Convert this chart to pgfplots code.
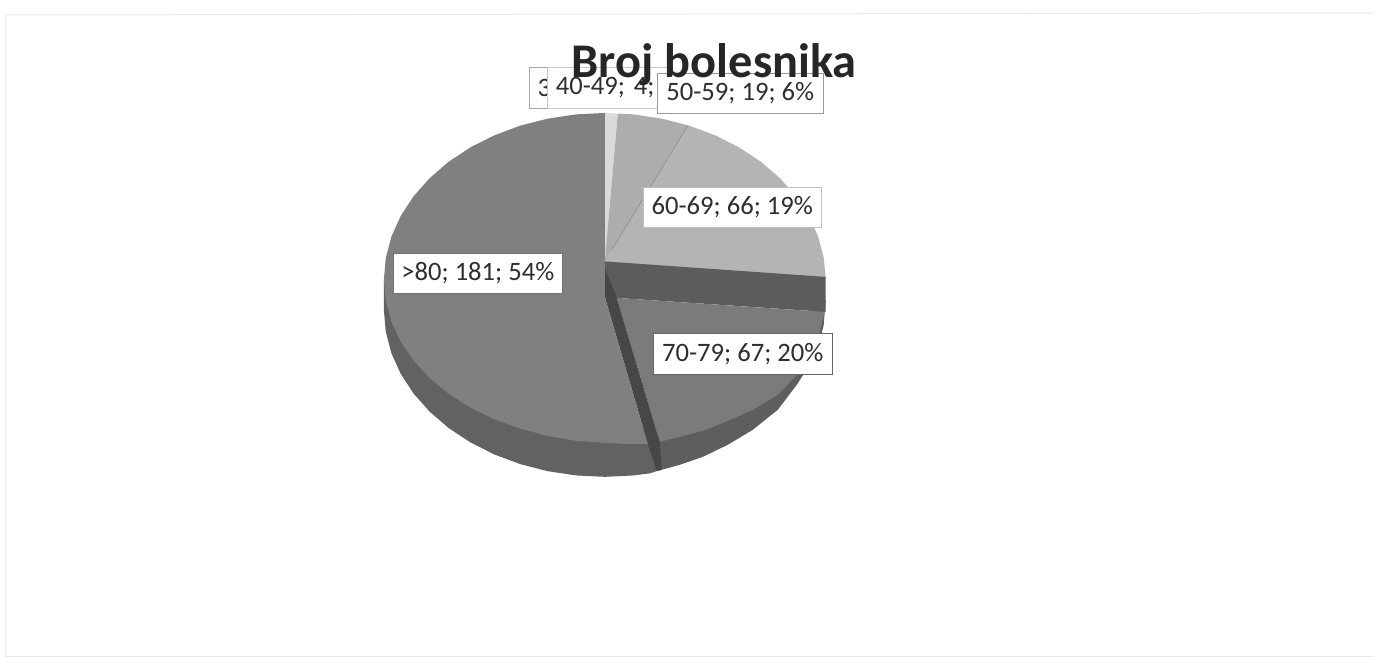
\documentclass[border=0pt]{standalone}
\usepackage{pgfplots}
\pgfplotsset{compat=1.18}
\usepackage{fontspec}
\setmainfont{Carlito}
\definecolor{slA}{HTML}{DADADA}
\definecolor{slB}{HTML}{ADADAD}
\definecolor{slC}{HTML}{B4B4B4}
\definecolor{slD}{HTML}{7B7B7B}
\definecolor{slE}{HTML}{808080}
\definecolor{wallD}{HTML}{5E5E5E}
\definecolor{wallE}{HTML}{626262}
\definecolor{strip}{HTML}{474747}
\definecolor{band}{HTML}{5C5C5C}
\definecolor{txt}{HTML}{2E2E2E}
\tikzset{lab/.style={fill=white,inner sep=0pt,anchor=north west,line width=1pt,font=\fontsize{26.6}{26.6}\selectfont,text=txt,align=center}}
\newcommand{\lift}[1]{\raisebox{-1.5pt}{#1}}
\begin{document}
\begin{tikzpicture}
\begin{axis}[
  scale only axis,width=1374pt,height=659pt,
  xmin=0,xmax=1374,ymin=0,ymax=659,y dir=reverse,
  hide axis,clip=false]
% keeps the page as large as the axis (hide axis drops the frame from the box)
\addplot[draw=none] coordinates {(0,0)(1374,659)};
% faint page edges of the scan
\addplot[color=black!9,line width=1pt] coordinates {(6,657)(6,15)(1374,13)};
\addplot[color=black!9,line width=1pt] coordinates {(6,657)(1374,657)};
% side walls
\addplot[fill=wallE,draw=none] coordinates {(384,280)(384,310)(385.9,331.8)(391.5,353.2)(400.8,373.9)(413.6,393.5)(429.7,411.7)(448.7,428.1)(470.5,442.5)(494.5,454.6)(520.4,464.3)(547.8,471.3)(576.2,475.6)(605,477)(633.8,475.6)(650,473.5)(658,471)(648,430)} --cycle;
\addplot[fill=wallD,draw=none] coordinates {(826,300)(824,325)(818,350)(808,368)(797,385)(778,410)(753,430)(728,445)(703,457)(680,465)(658,471)(655,440)(790,340)} --cycle;
% top faces, clockwise from noon
\addplot[fill=slA,draw=none] coordinates {(605,262)(605,113)(618,113.6)} --cycle;
\addplot[fill=slB,draw=none] coordinates {(605,262)(618,113.6)(633.8,114.4)(662.2,118.7)(689.6,125.7)} --cycle;
\addplot[fill=slC,draw=none] coordinates {(605,262)(689.6,125.7)(715.5,135.4)(739.5,147.5)(761.3,161.9)(780.3,178.3)(796.4,196.5)(809.2,216.1)(818.5,236.8)(824.1,258.2)(826,278)} --cycle;
\addplot[color=black!42,line width=0.8pt] coordinates {(612,250)(688,126)};
\addplot[fill=band,draw=none] coordinates {(605,261.5)(826,277)(826,312)(617,298)(605,285)} --cycle;
\addplot[fill=slD,draw=none] coordinates {(617,298)(825,312)(818,340)(808,358)(800,372)(778,395)(753,410)(728,421)(703,431)(680,437)(660,442)} --cycle;
\addplot[fill=strip,draw=none] coordinates {(605,268)(605,297)(648,444)(657,471)(662,470)(660,442)(617,298)} --cycle;
\addplot[fill=slE,draw=none] coordinates {(605,113)(576.2,114.4)(547.8,118.7)(520.4,125.7)(494.5,135.4)(470.5,147.5)(448.7,161.9)(429.7,178.3)(413.6,196.5)(400.8,216.1)(391.5,236.8)(385.9,258.2)(384,280)(385.9,301)(391.5,321.6)(400.8,341.6)(413.6,360.5)(429.7,378)(448.7,393.8)(470.5,407.7)(494.5,419.4)(520.4,428.7)(547.8,436)(576.2,441)(605,443)(625,444)(648,444)(605,297)} --cycle;
% data labels, as they overlap in the original
\node[lab,draw=black!35,minimum width=30pt,minimum height=41pt] at (axis cs:529,67) {\lift{3}};
\node[lab,draw=black!22,minimum width=125pt,minimum height=41pt,text width=110pt,align=left] at (axis cs:547,67) {\lift{\hspace{1pt}40-49; 4;}};
\node[lab,draw=black!40,minimum width=166pt,minimum height=40pt] at (axis cs:657,73) {50-59; 19; 6\%};
\node[lab,draw=black!25,minimum width=178pt,minimum height=40pt] at (axis cs:643,187) {\lift{60-69; 66; 19\%}};
\node[lab,draw=black!60,minimum width=179pt,minimum height=41pt] at (axis cs:653,333) {70-79; 67; 20\%};
\node[lab,draw=black!55,minimum width=169pt,minimum height=40pt] at (axis cs:393,253) {\lift{>80; 181; 54\%}};
\node[anchor=base,font=\fontsize{48.4}{48}\bfseries\selectfont,text=black!85] at (axis cs:714.5,78) {Broj bolesnika};
\end{axis}
\end{tikzpicture}
\end{document}
